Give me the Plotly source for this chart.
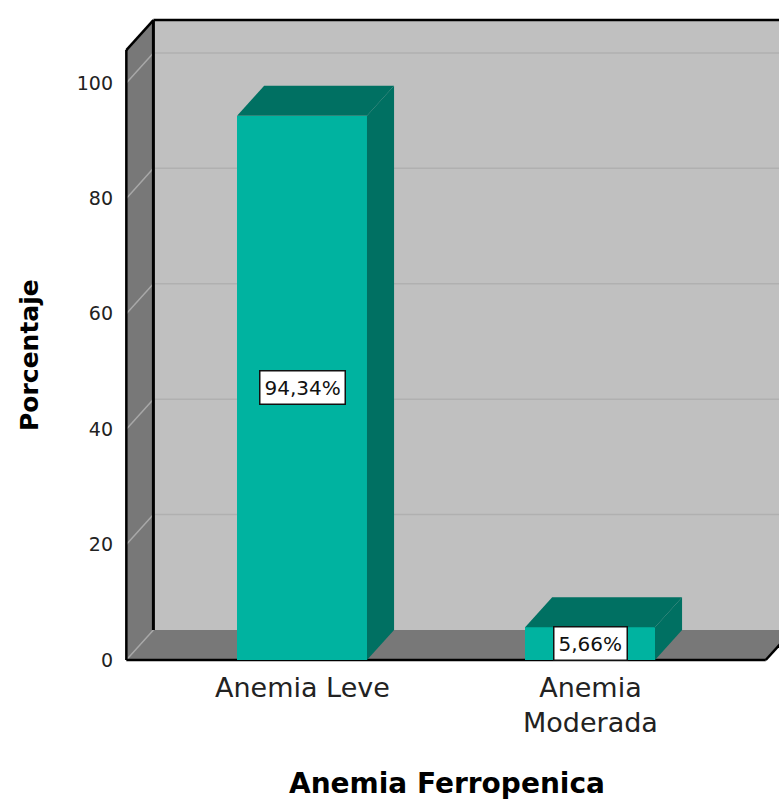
import textwrap
import plotly.graph_objects as go

# Data
categories = ["Anemia Leve", "Anemia Moderada"]
percentages = [94.34, 5.66]
y_ticks = [0, 20, 40, 60, 80, 100]
y_title = "Porcentaje"
x_title = "Anemia Ferropenica"

# Styling
FRONT = "#00b3a0"
SHADE = "#007062"
WALL_BACK = "#c0c0c0"
WALL_SIDE = "#787878"
GRID_BACK = "#b0b0b0"
GRID_SIDE = "#a8a8a8"
EDGE = "#000000"
FONT = "DejaVu Sans"

# 3D box geometry (in axis units)
bar_w = 0.451          # bar width along x
dx, dy = 0.094, 5.2    # depth offset of the back plane
wall_top = 105.7       # top of the walls (value scale)
side_pad = 0.61        # floor extent beyond first/last category
x_range = [-0.632, 1.656]
y_range = [-0.867, 111.78]

xs = list(range(len(categories)))
x_left = xs[0] - side_pad
x_right = xs[-1] + side_pad
x_far = x_range[1] + 1.0

shapes = []


def poly(points, color):
    path = "M " + " L ".join(f"{x},{y}" for x, y in points) + " Z"
    return dict(type="path", path=path, xref="x", yref="y", fillcolor=color,
                line=dict(width=0), layer="below")


def seg(x0, y0, x1, y1, color, width):
    return dict(type="line", x0=x0, y0=y0, x1=x1, y1=y1, xref="x", yref="y",
                line=dict(color=color, width=width), layer="below")


# back wall and its gridlines
shapes.append(poly([(x_left + dx, dy), (x_far, dy), (x_far, wall_top + dy),
                    (x_left + dx, wall_top + dy)], WALL_BACK))
for t in y_ticks[1:]:
    shapes.append(seg(x_left + dx, t + dy, x_far, t + dy, GRID_BACK, 1.5))
# floor
shapes.append(poly([(x_left, 0), (x_right, 0), (x_right + dx, dy),
                    (x_left + dx, dy)], WALL_SIDE))
# left wall and its gridlines
shapes.append(poly([(x_left, 0), (x_left, wall_top), (x_left + dx, wall_top + dy),
                    (x_left + dx, dy)], WALL_SIDE))
for t in y_ticks:
    shapes.append(seg(x_left, t, x_left + dx, t + dy, GRID_SIDE, 1.5))
# black frame edges
shapes.append(seg(x_left + dx, dy, x_left + dx, wall_top + dy, EDGE, 3))
shapes.append(seg(x_left + dx, wall_top + dy, x_far, wall_top + dy, EDGE, 2.5))
shapes.append(seg(x_left, 0, x_left, wall_top, EDGE, 2.5))
shapes.append(seg(x_left, wall_top, x_left + dx, wall_top + dy, EDGE, 2.5))
shapes.append(seg(x_left, 0, x_right, 0, EDGE, 2.5))
shapes.append(seg(x_right, 0, x_right + dx, dy, EDGE, 2.5))

fig = go.Figure()

# side and top faces of each bar
for x, v in zip(xs, percentages):
    xl, xr = x - bar_w / 2, x + bar_w / 2
    side = [(xr, 0), (xr + dx, dy), (xr + dx, v + dy), (xr, v), (xr, 0)]
    top = [(xl, v), (xr, v), (xr + dx, v + dy), (xl + dx, v + dy), (xl, v)]
    for pts in (side, top):
        fig.add_trace(go.Scatter(
            x=[p[0] for p in pts], y=[p[1] for p in pts], mode="lines",
            fill="toself", fillcolor=SHADE, line=dict(width=0, color=SHADE),
            hoverinfo="skip", showlegend=False))

# front faces
fig.add_trace(go.Bar(x=xs, y=percentages, width=bar_w,
                     marker=dict(color=FRONT, line=dict(width=0)),
                     showlegend=False, hoverinfo="skip"))

annotations = []
# value labels
for x, v in zip(xs, percentages):
    annotations.append(dict(
        x=x, y=v / 2, xref="x", yref="y", showarrow=False,
        text=f"{v:.2f}%".replace(".", ","),
        font=dict(family=FONT, size=20, color="#111"),
        bgcolor="white", bordercolor="#111", borderwidth=1.5, borderpad=4))

# category labels, wrapped like the original axis
for x, label in zip(xs, categories):
    annotations.append(dict(
        x=x, y=0, xref="x", yref="paper", yanchor="top", yshift=-5,
        showarrow=False, text="<br>".join(textwrap.wrap(label, 12)),
        font=dict(family=FONT, size=27, color="#222")))

# axis titles
annotations.append(dict(
    x=0, y=0, xref="paper", yref="paper", xshift=-91, yshift=310,
    xanchor="center", yanchor="middle", textangle=-90, showarrow=False,
    text=y_title, font=dict(family=FONT, size=25, color="#000", weight="bold")))
annotations.append(dict(
    x=0, y=0, xref="paper", yref="paper", xshift=327, yshift=-118,
    xanchor="center", yanchor="middle", showarrow=False,
    text=x_title, font=dict(family=FONT, size=28, color="#000", weight="bold")))

fig.update_layout(
    width=779, height=799,
    margin=dict(l=120, r=0, t=15, b=134),
    paper_bgcolor="white", plot_bgcolor="white",
    shapes=shapes, annotations=annotations,
    bargap=0, showlegend=False,
    xaxis=dict(range=x_range, showticklabels=False, showgrid=False,
               zeroline=False, showline=False, fixedrange=True),
    yaxis=dict(range=y_range, tickvals=y_ticks,
               ticktext=[str(t) for t in y_ticks], ticks="",
               ticklabelstandoff=6, showgrid=False, zeroline=False,
               showline=False, fixedrange=True,
               tickfont=dict(family=FONT, size=19, color="#222")),
)

fig.write_html("out.html")
